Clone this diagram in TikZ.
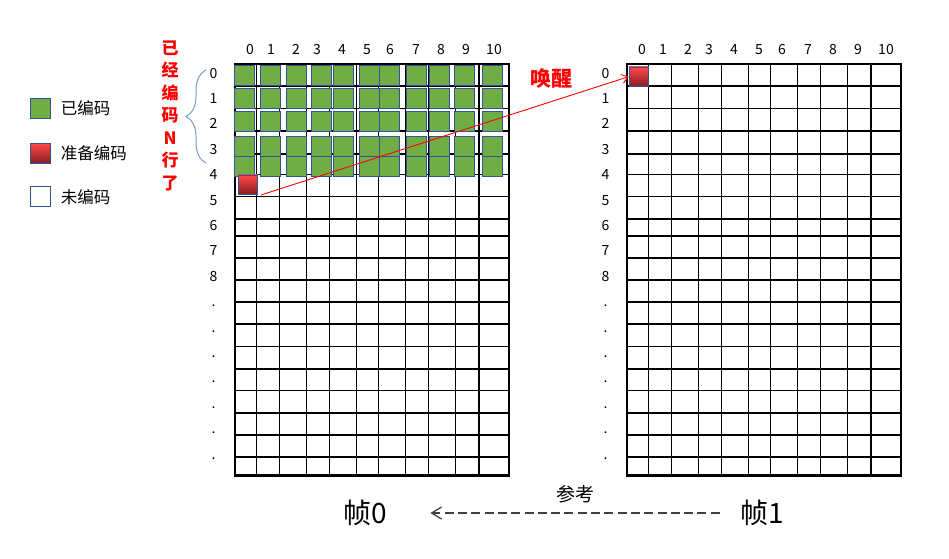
\documentclass[tikz,border=0pt]{standalone}
\usepackage{fontspec}
\setmainfont{Noto Sans CJK SC}
\usetikzlibrary{positioning,arrows.meta,decorations.pathreplacing}
\definecolor{cellgreen}{RGB}{112,173,71}
\definecolor{celledge}{RGB}{47,85,151}
\definecolor{redtop}{RGB}{255,70,70}
\definecolor{redbot}{RGB}{135,30,40}
\definecolor{bracecol}{RGB}{120,155,210}
\definecolor{refgray}{RGB}{64,64,64}

\begin{document}
\begin{tikzpicture}[x=1pt,y=-1pt,
  gridline/.style={black,line width=1.1pt},
  gridframe/.style={black,line width=2.2pt},
  greencell/.style={fill=cellgreen,draw=celledge,line width=0.9pt},
  redcell/.style={draw=celledge,line width=0.9pt,top color=redtop,bottom color=redbot,minimum size=19.5pt,inner sep=0pt},
  legbox/.style={draw=celledge,line width=1pt,minimum size=19.5pt,inner sep=0pt},
  legtext/.style={font=\fontsize{16.5}{18}\selectfont,inner sep=0pt},
  idx/.style={font=\fontsize{14}{16}\selectfont,inner sep=0pt,text height=10pt,text depth=0pt},
  frame/.style={font=\fontsize{28}{30}\selectfont}]
\useasboundingbox (0,0) rectangle (949,558);

% legend
\node[legbox,fill=cellgreen] (legG) at (40.3,108.3) {};
\node[legbox,top color=redtop,bottom color=redbot] (legR) at (40.3,153.3) {};
\node[legbox,fill=white] (legW) at (40.3,196.7) {};
\node[legtext,right=10pt of legG] (txtG) {已编码};
\node[legtext,right=10pt of legR] (txtR) {准备编码};
\node[legtext,right=10pt of legW] (txtW) {未编码};

% the two frames
\foreach \s in {0,392}{
  \begin{scope}[xshift=\s]
    \foreach \y in {86,108.5,131,154,174.5,196.5,219,236,258,280,302,324,346.5,369,390.5,413,435,457}
      \draw[gridline] (235,\y) -- (509,\y);
    \foreach \x in {256.7,279.3,306.7,329.3,356.7,378.3,405.7,428.3,455.7,479}
      \draw[gridline] (\x,64) -- (\x,475.5);
    \draw[gridframe] (235,64) rectangle (509,475.5);
    \foreach \x [count=\i from 0] in {250,271,296,317,342,367,390,416,441,466,494}
      \node[idx] (col\s-\i) at (\x,49) {\i};
    \foreach \t [count=\i from 0] in {0,1,2,3,4,5,6,7,8,.,.,.,.,.,.,.}
      \node[idx] (row\s-\i) at (213.5,73+25.4*\i) {\t};
  \end{scope}
}

% coded rows of frame 0
\foreach \y in {65,88.3,111.7,136.7,156.3}
  \foreach \x in {234.5,260.7,286.7,311,333.3,359.3,379.3,406,429.3,454.3,482.3}
    \draw[greencell] (\x,\y) rectangle ++(20,20);

\node[redcell] (redA) at (248,184.7) {};
\node[redcell] (redB) at (638.8,76.7) {};

\draw[bracecol,line width=1pt,decorate,decoration={brace,amplitude=20pt,mirror}] (206,70) -- (206,163);
\node[font=\bfseries\fontsize{17}{22.5}\selectfont,text=red,align=center,inner sep=0pt] (rowsdone) at (170,116) {已\\经\\编\\码\\N\\行\\了};

\node[font=\bfseries\fontsize{21}{24}\selectfont,text=red] (wake) at (551,79) {唤醒};
\draw[red,line width=0.9pt,-{Straight Barb[length=6pt,width=9pt]}] ([xshift=3pt]redA.south east) -- (redB.west);

% reference between frames
\node[frame] (frame0) at (365,513) {帧0};
\node[frame] (frame1) at (762,513) {帧1};
\node[font=\fontsize{19}{21}\selectfont] (ref) at (575,494) {参考};
\draw[refgray,line width=1.3pt,dash pattern=on 9pt off 4.3pt,-{Straight Barb[length=10pt,width=12pt]},shorten <=17pt,shorten >=40pt] (frame1) -- (frame0);
\end{tikzpicture}
\end{document}
